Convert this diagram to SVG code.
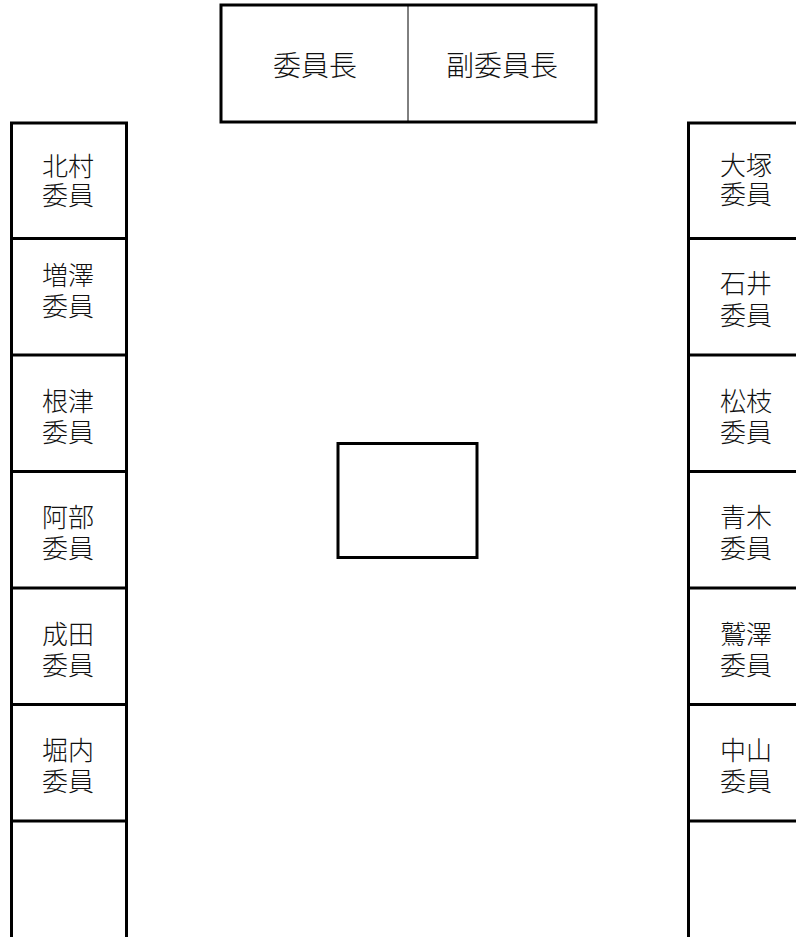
<svg xmlns="http://www.w3.org/2000/svg" width="796" height="937" viewBox="0 0 796 937">
<style>
.b{fill:none;stroke:#000;stroke-width:3}
.t{font-family:"Noto Sans CJK JP","Noto Sans CJK SC",sans-serif;font-size:26px;fill:#111;text-anchor:middle;dominant-baseline:central;font-weight:300}
.top{font-size:28px}
.d{stroke:#000;stroke-width:1}
.h{stroke:#000;stroke-width:3}
</style>
<rect width="796" height="937" fill="#fff"/>
<g id="chair">
<rect class="b" x="221" y="5" width="375" height="117"/>
<line class="d" x1="408" y1="5" x2="408" y2="122"/>
<text class="t top" x="315" y="64">委員長</text>
<text class="t top" x="502" y="64">副委員長</text>
</g>
<g id="left-column">
<path class="b" d="M11.5,937 V123 H126.5 V937"/>
<g class="h"><line x1="10" y1="238.5" x2="128" y2="238.5"/><line x1="10" y1="355" x2="128" y2="355"/><line x1="10" y1="471.5" x2="128" y2="471.5"/><line x1="10" y1="588" x2="128" y2="588"/><line x1="10" y1="704.5" x2="128" y2="704.5"/><line x1="10" y1="821" x2="128" y2="821"/></g>
<g id="kitamura"><text class="t" x="68" y="164">北村<tspan x="68" dy="29">委員</tspan></text></g>
<g id="masuzawa"><text class="t" x="68" y="273">増澤<tspan x="68" dy="31">委員</tspan></text></g>
<g id="nezu"><text class="t" x="68" y="399">根津<tspan x="68" dy="31">委員</tspan></text></g>
<g id="abe"><text class="t" x="68" y="515">阿部<tspan x="68" dy="31">委員</tspan></text></g>
<g id="narita"><text class="t" x="68" y="632">成田<tspan x="68" dy="31">委員</tspan></text></g>
<g id="horiuchi"><text class="t" x="68" y="748">堀内<tspan x="68" dy="31">委員</tspan></text></g>
</g>
<g id="right-column">
<path class="b" d="M688.5,937 V123 H800"/>
<g class="h"><line x1="687" y1="238.5" x2="796" y2="238.5"/><line x1="687" y1="355" x2="796" y2="355"/><line x1="687" y1="471.5" x2="796" y2="471.5"/><line x1="687" y1="588" x2="796" y2="588"/><line x1="687" y1="704.5" x2="796" y2="704.5"/><line x1="687" y1="821" x2="796" y2="821"/></g>
<g id="otsuka"><text class="t" x="746" y="163">大塚<tspan x="746" dy="29">委員</tspan></text></g>
<g id="ishii"><text class="t" x="746" y="281">石井<tspan x="746" dy="31.5">委員</tspan></text></g>
<g id="matsueda"><text class="t" x="746" y="399">松枝<tspan x="746" dy="31">委員</tspan></text></g>
<g id="aoki"><text class="t" x="746" y="515">青木<tspan x="746" dy="31">委員</tspan></text></g>
<g id="washizawa"><text class="t" x="746" y="632">鷲澤<tspan x="746" dy="31">委員</tspan></text></g>
<g id="nakayama"><text class="t" x="746" y="748">中山<tspan x="746" dy="31">委員</tspan></text></g>
</g>
<g id="center-table">
<rect class="b" x="338" y="443.5" width="139" height="114"/>
</g>
<g id="connectors"/>
</svg>
